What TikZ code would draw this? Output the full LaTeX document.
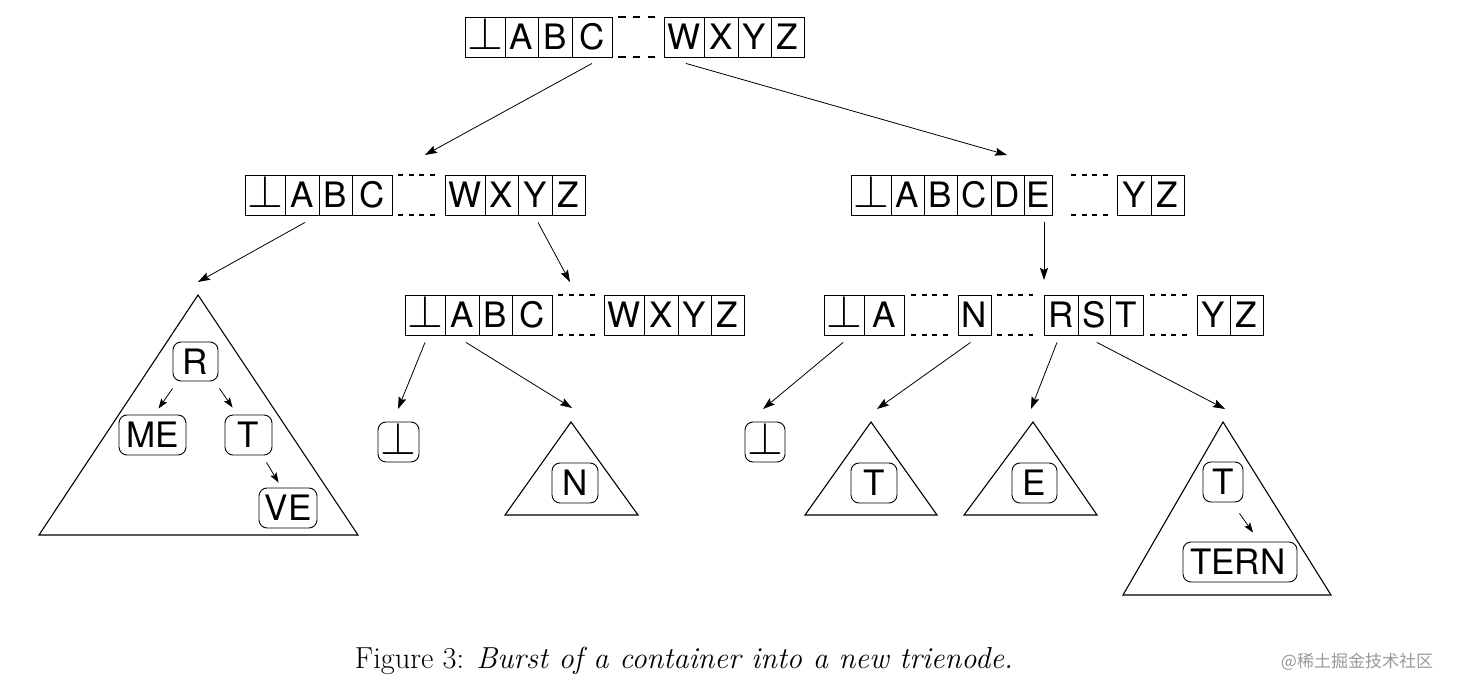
\documentclass[tikz,border=0pt]{standalone}
\usepackage{graphicx}
\usepackage{fontspec}
\newfontfamily\cellfont{TeX Gyre Heros}
\newfontfamily\cjkfont{Noto Sans CJK SC}
\usetikzlibrary{arrows.meta,calc}
\newcommand{\bottomsym}{\scalebox{1.85}{$\perp$}}
\tikzset{
  lbl/.style={font=\cellfont\fontsize{35}{40}\selectfont, text height=25pt, text depth=0pt},
  cell/.style={lbl, draw, line width=0.9pt, minimum height=40pt, inner sep=0pt},
  rbox/.style={lbl, draw, line width=0.9pt, rounded corners=8pt, minimum height=40pt, inner sep=0pt},
  gapbar/.style={line width=2.4pt, dash pattern=on 5pt off 5.67pt},
  topgap/.style={line width=2.4pt, dash pattern=on 7.5pt off 7.25pt},
  tri/.style={line width=1.1pt, line join=miter},
  arr/.style={line width=0.8pt, -{Stealth[length=12pt,width=8pt,inset=2pt]}},
  sarr/.style={line width=0.8pt, -{Stealth[length=10pt,width=7pt,inset=2pt]}},
}
\begin{document}
\begin{tikzpicture}[x=1pt,y=-1pt]
\useasboundingbox (0,0) rectangle (1458,692);

% ---- row 1 (root)
\foreach \n/\a/\b/\t in {r1bot/465/505/{\bottomsym}, r1A/505/538/A, r1B/538/572/B, r1C/572/612/C,
                         r1W/664/704/W, r1X/704/738/X, r1Y/738/771/Y, r1Z/771/804/Z}
  \node[cell, minimum width={\b-\a}] (\n) at ({(\a+\b)/2},37) {\t};
\draw[topgap] (618,17) -- (655,17);
\draw[topgap] (618,57) -- (655,57);

% ---- row 2 left
\foreach \n/\a/\b/\t in {pbot/245/285/{\bottomsym}, pA/285/319/A, pB/319/352/B, pC/352/392/C,
                         pW/445/485/W, pX/485/518/X, pY/518/552/Y, pZ/552/585/Z}
  \node[cell, minimum width={\b-\a}] (\n) at ({(\a+\b)/2},195) {\t};
\draw[gapbar] (398,175) -- (435,175);
\draw[gapbar] (398,215) -- (435,215);

% ---- row 2 right
\foreach \n/\a/\b/\t in {qbot/851/891/{\bottomsym}, qA/891/924/A, qB/924/957/B, qC/957/991/C,
                         qD/991/1024/D, qE/1024/1052/E, qY/1117/1151/Y, qZ/1151/1184/Z}
  \node[cell, minimum width={\b-\a}] (\n) at ({(\a+\b)/2},195) {\t};
\draw[gapbar] (1071,175) -- (1108,175);
\draw[gapbar] (1071,215) -- (1108,215);

% ---- row 3 middle
\foreach \n/\a/\b/\t in {mbot/405/445/{\bottomsym}, mA/445/479/A, mB/479/512/B, mC/512/552/C,
                         mW/604/644/W, mX/644/678/X, mY/678/711/Y, mZ/711/744/Z}
  \node[cell, minimum width={\b-\a}] (\n) at ({(\a+\b)/2},315) {\t};
\draw[gapbar] (558,295) -- (595,295);
\draw[gapbar] (558,335) -- (595,335);

% ---- row 3 right
\foreach \n/\a/\b/\t in {nbot/824/864/{\bottomsym}, nA/864/904/A, nN/958/991/N,
                         nR/1044/1078/R, nS/1078/1110/S, nT/1110/1143/T,
                         nY/1197/1230/Y, nZ/1230/1263/Z}
  \node[cell, minimum width={\b-\a}] (\n) at ({(\a+\b)/2},315) {\t};
\foreach \a/\b in {911/948, 997/1033, 1150/1187}{
  \draw[gapbar] (\a,295) -- (\b,295);
  \draw[gapbar] (\a,335) -- (\b,335);
}

% ---- triangles
\coordinate (T1) at (198,295);
\coordinate (T2) at (571,422);
\coordinate (T3) at (871,422);
\coordinate (T4) at (1033,422);
\coordinate (T5) at (1223,422);
\draw[tri] (T1) -- (39,535) -- (358,535) -- cycle;
\draw[tri] (T2) -- (505,515) -- (638,515) -- cycle;
\draw[tri] (T3) -- (805,515) -- (937,515) -- cycle;
\draw[tri] (T4) -- (964,515) -- (1097,515) -- cycle;
\draw[tri] (T5) -- (1123,595) -- (1331,595) -- cycle;

% ---- rounded leaf nodes
\node[rbox, minimum width=45pt, minimum height=39pt] (R) at (195.5,361.5) {R};
\node[rbox, minimum width=67pt] (ME) at (152.5,435) {ME};
\node[rbox, minimum width=47pt] (Tl) at (248.5,435) {T};
\node[rbox, minimum width=58pt] (VE) at (288,508) {VE};
\node[rbox, minimum width=41pt] (b1) at (398.5,442) {\bottomsym};
\node[rbox, minimum width=40pt] (b2) at (765,442) {\bottomsym};
\node[rbox, minimum width=46pt] (N) at (575,483) {N};
\node[rbox, minimum width=46pt] (Tm) at (874,483) {T};
\node[rbox, minimum width=45pt] (E) at (1034.5,483) {E};
\node[rbox, minimum width=40pt] (Tt) at (1223,482) {T};
\node[rbox, text width=100pt, align=left, inner xsep=7pt] (TERN) at (1240,562) {TERN};

% ---- arrow targets
\coordinate (in1) at (425,155);
\coordinate (in2) at (1007,155);
\coordinate (in3) at (198,282);
\coordinate (in4) at (570,282);
\coordinate (in5) at (1044,280);
\coordinate (in6) at (398,409);
\coordinate (in7) at (572,408);
\coordinate (in8) at (763,409);
\coordinate (in9) at (877,409);
\coordinate (in10) at (1031,409);
\coordinate (in11) at (1225,409);

\draw[arr] ([shift={(0,6)}]r1C.south) -- (in1);
\draw[arr] ([shift={(2,6)}]r1W.south) -- (in2);
\draw[arr] ([shift={(3,7)}]pA.south) -- (in3);
\draw[arr] ([shift={(3,7)}]pY.south) -- (in4);
\draw[arr] ([shift={(6,7)}]qE.south) -- (in5);
\draw[arr] ([shift={(0,7)}]mbot.south) -- (in6);
\draw[arr] ([shift={(4,7)}]mA.south) -- (in7);
\draw[arr] ([shift={(-1,7)}]nbot.south) -- (in8);
\draw[arr] ([shift={(-4,7)}]nN.south) -- (in9);
\draw[arr] ([shift={(-4,7)}]nR.south) -- (in10);
\draw[arr] ([shift={(3,7)}]nS.south) -- (in11);

\draw[sarr] ([shift={(0,7)}]R.south west) -- ([shift={(6,-6)}]ME.north);
\draw[sarr] ([shift={(1,7)}]R.south east) -- ([shift={(8,-7)}]Tl.north west);
\draw[sarr] ([shift={(-6,7)}]Tl.south east) -- ([shift={(20,-5)}]VE.north west);
\draw[sarr] ([shift={(-4,11)}]Tt.south east) -- ([shift={(13,-9)}]TERN.north);

% ---- caption and mark
\node[font=\fontsize{30.4}{35}\selectfont] (cap) at (684,661) {Figure 3: \textit{Burst of a container into a new trienode.}};
\node[font=\cjkfont\fontsize{17}{20}\selectfont, text=black!40] (mark) at (1357,662) {@稀土掘金技术社区};
\end{tikzpicture}
\end{document}
